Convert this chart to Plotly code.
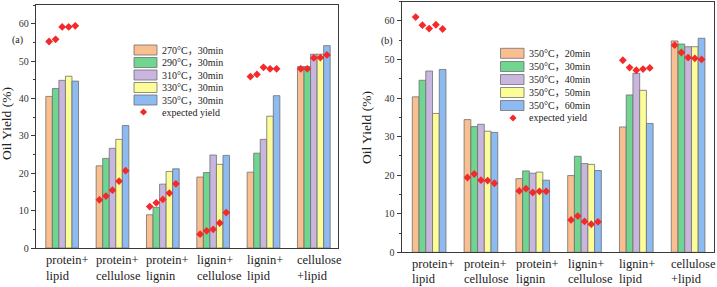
import plotly.graph_objects as go

# ---------------- data ----------------
cat_line1 = ["protein+", "protein+", "protein+", "lignin+", "lignin+", "cellulose"]
cat_line2 = ["lipid", "cellulose", "lignin", "cellulose", "lipid", "+lipid"]

left_names = ["270°C，30min", "290°C，30min", "310°C，30min", "330°C，30min", "350°C，30min"]
left_270 = [40.6, 22.0, 8.9, 19.0, 20.3, 48.6]
left_290 = [42.7, 24.0, 10.9, 20.2, 25.4, 48.6]
left_310 = [44.9, 26.7, 17.1, 24.9, 29.1, 51.9]
left_330 = [46.0, 29.1, 20.5, 22.4, 35.3, 51.9]
left_350 = [44.7, 32.8, 21.2, 24.8, 40.8, 54.2]
# expected yield, per group (one value per bar)
left_expected = [
    [55.3, 55.9, 59.2, 59.2, 59.5],
    [12.9, 13.9, 15.5, 17.9, 20.7],
    [11.1, 12.1, 13.0, 14.7, 17.2],
    [3.7, 4.6, 5.0, 6.7, 9.5],
    [45.9, 46.5, 48.4, 48.0, 48.0],
    [48.0, 48.0, 50.9, 51.0, 51.7],
]

right_names = ["350°C，20min", "350°C，30min", "350°C，40min", "350°C，50min", "350°C，60min"]
right_20 = [40.3, 34.4, 19.1, 19.9, 32.5, 54.8]
right_30 = [44.6, 32.6, 21.1, 24.9, 40.8, 54.0]
right_40 = [47.0, 33.2, 20.5, 23.0, 46.4, 53.3]
right_50 = [36.0, 31.4, 20.8, 22.8, 42.0, 53.3]
right_60 = [47.4, 31.1, 18.7, 21.2, 33.4, 55.5]
right_expected = [
    [61.0, 58.9, 58.0, 59.0, 57.9],
    [19.4, 20.3, 18.7, 18.6, 17.9],
    [15.9, 16.5, 15.5, 15.8, 15.8],
    [8.4, 9.4, 8.0, 7.3, 7.9],
    [49.8, 47.9, 47.2, 47.5, 47.8],
    [53.7, 51.8, 50.5, 50.3, 50.0],
]

yticks = [0, 10, 20, 30, 40, 50, 60]

# ---------------- style ----------------
W, H = 717, 287
colors = ["#F9BF90", "#6FD590", "#C8B6DF", "#FCFC98", "#8CBAF1"]
edge = "#707070"
red = "#F42A2A"
FONT = "Liberation Serif, Times New Roman, Noto Sans CJK SC, serif"
axcol = "#3a3a3a"
ngroups = len(cat_line1)
nbars = 5
bargap = 0.35
bw = (1 - bargap) / nbars

def px(x):
    return x / W

def py(y):
    return 1 - y / H

fig = go.Figure()

panels = [
    dict(xa="x", ya="y", series=[left_270, left_290, left_310, left_330, left_350],
         names=left_names, expected=left_expected),
    dict(xa="x2", ya="y2", series=[right_20, right_30, right_40, right_50, right_60],
         names=right_names, expected=right_expected),
]

for p in panels:
    for j, vals in enumerate(p["series"]):
        fig.add_trace(go.Bar(
            x=list(range(ngroups)), y=vals, name=p["names"][j],
            xaxis=p["xa"], yaxis=p["ya"], marker_color=colors[j],
            marker_line=dict(color=edge, width=0.8), showlegend=False,
        ))
    ex_x, ex_y = [], []
    for i in range(ngroups):
        for j in range(nbars):
            ex_x.append(i + (j - (nbars - 1) / 2) * bw)
            ex_y.append(p["expected"][i][j])
    fig.add_trace(go.Scatter(
        x=ex_x, y=ex_y, mode="markers", xaxis=p["xa"], yaxis=p["ya"],
        marker=dict(symbol="diamond", size=6, color=red, line=dict(width=0)),
        showlegend=False, name="expected yield",
    ))

# geometry (pixels)
L = dict(x0=36, x1=338, y0=248, ytop=5.3, xr=[-0.52, 5.48])
R = dict(x0=401.7, x1=714, y0=252.3, ytop=1.6, xr=[-0.53, 5.50])

def yaxis_cfg(g, anchor):
    return dict(
        domain=[py(g["y0"]), py(g["ytop"])], range=[0, 65], anchor=anchor,
        automargin=False,
        tickvals=yticks, ticks="outside", ticklen=4, tickwidth=1, tickcolor=axcol,
        minor=dict(tickvals=[5, 15, 25, 35, 45, 55, 65], ticks="outside", ticklen=2,
                   tickcolor=axcol, tickwidth=1),
        showline=True, linecolor=axcol, linewidth=1.3, mirror=True,
        showgrid=False, zeroline=False,
        tickfont=dict(family=FONT, size=10, color="#333"),
    )

def xaxis_cfg(g, anchor):
    return dict(
        domain=[px(g["x0"]), px(g["x1"])], range=g["xr"], anchor=anchor,
        automargin=False,
        showticklabels=False, ticks="", showline=True, linecolor=axcol,
        linewidth=1.3, mirror=True, showgrid=False, zeroline=False,
    )

fig.update_layout(
    width=W, height=H, margin=dict(l=0, r=0, t=0, b=0, autoexpand=False),
    paper_bgcolor="white", plot_bgcolor="white",
    barmode="group", bargap=bargap, bargroupgap=0,
    xaxis=xaxis_cfg(L, "y"), yaxis=yaxis_cfg(L, "x"),
    xaxis2=xaxis_cfg(R, "y2"), yaxis2=yaxis_cfg(R, "x2"),
    showlegend=False,
)

ann = []
# category labels (two lines, left aligned at group's bar start)
for xa, ys in (("x", (259.5, 275.5)), ("x2", (263.5, 279))):
    for i in range(ngroups):
        for k, txt in enumerate((cat_line1[i], cat_line2[i])):
            ann.append(dict(x=i - (1 - bargap) / 2, y=py(ys[k]), xref=xa, yref="paper",
                            text=txt, showarrow=False, xanchor="left", yanchor="middle",
                            xshift=-2, font=dict(family=FONT, size=12.5, color="#222")))

# y-axis titles
for cx, cy in ((6, 124), (366, 128)):
    ann.append(dict(x=px(cx), y=py(cy), xref="paper", yref="paper", text="Oil Yield (%)",
                    textangle=-90, showarrow=False, xanchor="center", yanchor="middle",
                    font=dict(family=FONT, size=13.5, color="#222")))

# panel labels
for cx, cy, t in ((17.5, 40, "(a)"), (386.5, 40.5, "(b)")):
    ann.append(dict(x=px(cx), y=py(cy), xref="paper", yref="paper", text=t,
                    showarrow=False, xanchor="center", yanchor="middle",
                    font=dict(family=FONT, size=10, color="#222")))

shapes = []
# manual legends
legends = [
    dict(names=left_names, px0=134, px1=157, tx=160, rows=[50, 62.5, 75, 87.5, 100], dy=112, dx=143.5),
    dict(names=right_names, px0=500.5, px1=524, tx=527, rows=[53.3, 66.5, 79.5, 92.5, 105.5], dy=118, dx=513),
]
for lg in legends:
    for j, nm in enumerate(lg["names"]):
        yc = lg["rows"][j]
        shapes.append(dict(type="rect", xref="paper", yref="paper",
                           x0=px(lg["px0"]), x1=px(lg["px1"]), y0=py(yc + 5), y1=py(yc - 5),
                           fillcolor=colors[j], line=dict(color=edge, width=0.8)))
        ann.append(dict(x=px(lg["tx"]), y=py(yc), xref="paper", yref="paper", text=nm,
                        showarrow=False, xanchor="left", yanchor="middle",
                        font=dict(family=FONT, size=10, color="#222")))
    cx, cy, r = lg["dx"], lg["dy"], 3.6
    path = (f"M {px(cx - r)} {py(cy)} L {px(cx)} {py(cy - r)} "
            f"L {px(cx + r)} {py(cy)} L {px(cx)} {py(cy + r)} Z")
    shapes.append(dict(type="path", xref="paper", yref="paper", path=path,
                       fillcolor=red, line=dict(width=0)))
    ann.append(dict(x=px(lg["tx"]), y=py(cy), xref="paper", yref="paper", text="expected yield",
                    showarrow=False, xanchor="left", yanchor="middle",
                    font=dict(family=FONT, size=10, color="#222")))

fig.update_layout(annotations=ann, shapes=shapes)
fig.write_html("out.html", config={"displayModeBar": False},
               post_script="document.body.style.margin='0';document.body.style.overflow='hidden';")
